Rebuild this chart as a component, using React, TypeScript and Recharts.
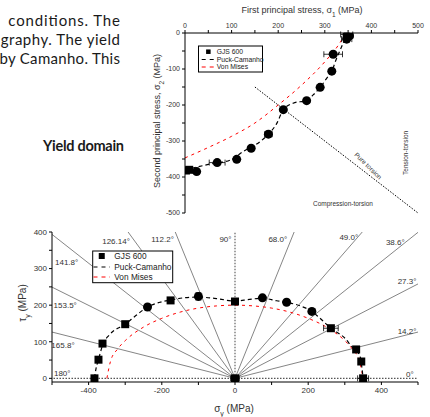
import React from 'react'
import {
  ComposedChart, Line, Scatter, XAxis, YAxis, ErrorBar, ReferenceLine, ReferenceDot,
} from 'recharts'

const FONT = '"Liberation Sans", Arial, sans-serif'

// ---- principal stress plane (top chart) ----
const sigma1Ticks = [0, 50, 100, 150, 200, 250, 300, 350, 400, 450, 500]
const sigma2Ticks = [-500, -450, -400, -350, -300, -250, -200, -150, -100, -50, 0]

const planeSquares = [
  { x: 347, y: -4, ex: 13, ey: 4 },
  { x: 9, y: -380, ex: 3, ey: 0 },
  { x: 2, y: -382, ex: 0, ey: 0 },
]
const planeRound = [
  { x: 353, y: -8, ex: 7, ey: 0 },
  { x: 347, y: -17, ex: 11, ey: 0 },
  { x: 318, y: -59, ex: 20, ey: 0 },
  { x: 315, y: -106, ex: 4, ey: 3 },
  { x: 290, y: -151, ex: 4, ey: 0 },
  { x: 261, y: -188, ex: 3, ey: 0 },
  { x: 211, y: -213, ex: 0, ey: 0 },
  { x: 179, y: -281, ex: 8, ey: 8 },
  { x: 142, y: -320, ex: 0, ey: 0 },
  { x: 111, y: -351, ex: 5, ey: 0 },
  { x: 69, y: -360, ex: 17, ey: 0 },
  { x: 25, y: -385, ex: 0, ey: 0 },
]
const puckPlane = [
  { x: 0, y: -381 }, { x: 50, y: -365 }, { x: 97, y: -353 }, { x: 125, y: -329 },
  { x: 161, y: -302 }, { x: 179, y: -281 }, { x: 197, y: -251 }, { x: 211, y: -213 },
  { x: 232, y: -195 }, { x: 261, y: -187 }, { x: 275, y: -172 }, { x: 290, y: -151 },
  { x: 304, y: -126 }, { x: 315, y: -106 }, { x: 324, y: -75 }, { x: 333, y: -47 },
  { x: 343, y: -17 }, { x: 348, y: 0 },
]
const misesPlane = [
  { x: 0, y: -347 }, { x: 50, y: -318 }, { x: 100, y: -287 }, { x: 150, y: -250 },
  { x: 200, y: -200 }, { x: 250, y: -145 }, { x: 300, y: -80 }, { x: 330, y: -32 },
  { x: 345, y: 0 },
]
const torsionPath = [{ x: 150, y: -150 }, { x: 500, y: -500 }]
const planeNotes = [
  { x: 393, y: -369, text: 'Pure torsion', angle: 44 },
  { x: 474, y: -333, text: 'Tension-torsion', angle: -90 },
  { x: 339, y: -475, text: 'Compression-torsion', angle: 0 },
]

// ---- sigma / tau plane (bottom chart) ----
const sigmaTicks = [-500, -400, -300, -200, -100, 0, 100, 200, 300, 400, 500]
const tauTicks = [0, 50, 100, 150, 200, 250, 300, 350, 400]

const tauSquares = [
  { x: -384, y: 0, ex: 0, ey: 0 },
  { x: -373, y: 51, ex: 0, ey: 0 },
  { x: -362, y: 95, ex: 0, ey: 0 },
  { x: -300, y: 148, ex: 6, ey: 0 },
  { x: -176, y: 213, ex: 0, ey: 0 },
  { x: 0, y: 210, ex: 0, ey: 0 },
  { x: 262, y: 137, ex: 20, ey: 0 },
  { x: 331, y: 79, ex: 5, ey: 0 },
  { x: 345, y: 46, ex: 0, ey: 0 },
  { x: 350, y: 0, ex: 15, ey: 0 },
  { x: 0, y: 0, ex: 12, ey: 0 },
]
const tauRound = [
  { x: -239, y: 195, ex: 0, ey: 0 },
  { x: -100, y: 224, ex: 0, ey: 10 },
  { x: 75, y: 220, ex: 0, ey: 0 },
  { x: 141, y: 208, ex: 0, ey: 0 },
  { x: 210, y: 183, ex: 0, ey: 0 },
]
const puckTau = [
  { x: -384, y: 0 }, { x: -380, y: 25 }, { x: -373, y: 51 }, { x: -362, y: 90 },
  { x: -342, y: 120 }, { x: -300, y: 148 }, { x: -269, y: 173 }, { x: -239, y: 195 },
  { x: -205, y: 208 }, { x: -176, y: 214 }, { x: -141, y: 220 }, { x: -100, y: 222 },
  { x: -50, y: 218 }, { x: 0, y: 211 }, { x: 40, y: 216 }, { x: 75, y: 219 },
  { x: 114, y: 212 }, { x: 141, y: 208 }, { x: 178, y: 198 }, { x: 210, y: 183 },
  { x: 228, y: 168 }, { x: 262, y: 137 }, { x: 301, y: 109 }, { x: 320, y: 86 },
  { x: 331, y: 76 }, { x: 342, y: 59 }, { x: 347, y: 27 }, { x: 350, y: 0 },
]
const misesTau = [
  { x: -350, y: 0 }, { x: -340, y: 47 }, { x: -320, y: 81 }, { x: -300, y: 103 },
  { x: -250, y: 140 }, { x: -200, y: 164 }, { x: -150, y: 181 }, { x: -100, y: 192 },
  { x: -50, y: 198 }, { x: 0, y: 200 }, { x: 50, y: 198 }, { x: 100, y: 192 },
  { x: 150, y: 181 }, { x: 200, y: 164 }, { x: 250, y: 140 }, { x: 300, y: 103 },
  { x: 320, y: 81 }, { x: 340, y: 47 }, { x: 350, y: 0 },
]
const rayAngles = [0, 14.2, 27.3, 38.6, 49.0, 68.0, 90, 112.2, 126.14, 141.8, 153.5, 165.8, 180]
const rayLabels = ['0°', '14.2°', '27.3°', '38.6°', '49.0°', '68.0°', '90°', '112.2°', '126.14°', '141.8°', '153.5°', '165.8°', '180°']
const rayLabelAt = [
  [478, 12], [470, 130], [470, 266], [438, 372], [311, 387], [117, 380], [-26, 381],
  [-198, 381], [-325, 375], [-460, 317], [-464, 200], [-470, 91], [-472, 14],
]

const SIGMA_DOMAIN: [number, number] = [-500, 500]
const TAU_DOMAIN: [number, number] = [-10, 400]

// end of a ray from the origin where it leaves the plot box
function rayEnd(deg: number) {
  const r = (deg * Math.PI) / 180
  const c = Math.cos(r)
  const s = Math.sin(r)
  const tx = Math.abs(c) > 1e-9 ? SIGMA_DOMAIN[1] / Math.abs(c) : Infinity
  const ty = s > 1e-9 ? TAU_DOMAIN[1] / s : Infinity
  const t = Math.min(tx, ty)
  return { x: c * t, y: s * t }
}

const major = (step: number) => (v: number) => (v % step === 0 ? String(v) : '')
const blank = () => ''

const axisCommon = {
  type: 'number' as const,
  allowDataOverflow: true,
  interval: 0 as const,
  axisLine: { stroke: '#000', strokeWidth: 1 },
  tickLine: { stroke: '#000' },
  tickSize: 3,
  tickMargin: 2,
}

function PlaneChart() {
  const tick = { fontSize: 7, fill: '#333', fontFamily: FONT }
  return (
    <ComposedChart width={430} height={228} margin={{ top: 13, right: 12, bottom: 15, left: 155 }}>
      <XAxis {...axisCommon} dataKey="x" orientation="top" domain={[0, 500]} ticks={sigma1Ticks}
        tickFormatter={major(100)} tick={tick} height={20} />
      <XAxis {...axisCommon} xAxisId="m" orientation="bottom" domain={[0, 500]} ticks={sigma1Ticks}
        tickFormatter={blank} height={0} mirror />
      <YAxis {...axisCommon} dataKey="y" domain={[-500, 0]} ticks={sigma2Ticks}
        tickFormatter={major(100)} tick={tick} width={30} />
      <YAxis {...axisCommon} yAxisId="m" orientation="right" domain={[-500, 0]} ticks={sigma2Ticks}
        tickFormatter={blank} width={0} mirror />

      <ReferenceLine segment={torsionPath} stroke="#000" strokeWidth={1} strokeDasharray="1.5 1.5" ifOverflow="visible" />
      {planeNotes.map(n => (
        <ReferenceDot key={n.text} x={n.x} y={n.y} r={0} fill="none" stroke="none" ifOverflow="visible"
          label={{ value: n.text, position: 'center', angle: n.angle, fontSize: 6.5, fill: '#333', fontFamily: FONT }} />
      ))}

      <Line data={misesPlane} dataKey="y" type="monotone" stroke="#ff0000" strokeWidth={1}
        strokeDasharray="3 4" dot={false} isAnimationActive={false} />
      <Line data={puckPlane} dataKey="y" type="monotone" stroke="#000" strokeWidth={1.2}
        strokeDasharray="4 3" dot={false} isAnimationActive={false} />
      <Scatter data={planeRound} dataKey="y" shape="circle" fill="#000" isAnimationActive={false}>
        <ErrorBar dataKey="ex" direction="x" width={3} stroke="#000" strokeWidth={0.8} />
        <ErrorBar dataKey="ey" direction="y" width={3} stroke="#000" strokeWidth={0.8} />
      </Scatter>
      <Scatter data={planeSquares} dataKey="y" shape="square" fill="#000" isAnimationActive={false}>
        <ErrorBar dataKey="ex" direction="x" width={3} stroke="#000" strokeWidth={0.8} />
        <ErrorBar dataKey="ey" direction="y" width={3} stroke="#000" strokeWidth={0.8} />
      </Scatter>
    </ComposedChart>
  )
}

function TauChart() {
  const tick = { fontSize: 8, fill: '#333', fontFamily: FONT }
  return (
    <ComposedChart width={430} height={197} margin={{ top: 12, right: 12, bottom: 15, left: 22 }}>
      <XAxis {...axisCommon} dataKey="x" orientation="bottom" domain={SIGMA_DOMAIN} ticks={sigmaTicks}
        tickFormatter={major(200)} tick={tick} height={20} />
      <XAxis {...axisCommon} xAxisId="m" orientation="top" domain={SIGMA_DOMAIN} ticks={sigmaTicks}
        tickFormatter={blank} height={0} mirror />
      <YAxis {...axisCommon} dataKey="y" domain={TAU_DOMAIN} ticks={tauTicks}
        tickFormatter={major(100)} tick={tick} width={30} />
      <YAxis {...axisCommon} yAxisId="m" orientation="right" domain={TAU_DOMAIN} ticks={tauTicks}
        tickFormatter={blank} width={0} mirror />

      {rayAngles.map(a => {
        const axial = a % 90 === 0
        return (
          <ReferenceLine key={'ray' + a} segment={[{ x: 0, y: 0 }, rayEnd(a)]} ifOverflow="visible"
            stroke={axial ? '#555' : '#333'} strokeWidth={axial ? 1.1 : 0.6}
            strokeDasharray={axial ? '1.5 1.5' : undefined} />
        )
      })}
      {rayLabels.map((t, i) => (
        <ReferenceDot key={'lbl' + t} x={rayLabelAt[i][0]} y={rayLabelAt[i][1]} r={0} fill="none"
          stroke="none" ifOverflow="visible"
          label={{ value: t, position: 'center', fontSize: 8, fill: '#333', fontFamily: FONT }} />
      ))}

      <Line data={misesTau} dataKey="y" type="monotone" stroke="#ff0000" strokeWidth={1}
        strokeDasharray="3 4" dot={false} isAnimationActive={false} />
      <Line data={puckTau} dataKey="y" type="monotone" stroke="#000" strokeWidth={1.2}
        strokeDasharray="4 3" dot={false} isAnimationActive={false} />
      <Scatter data={tauRound} dataKey="y" shape="circle" fill="#000" isAnimationActive={false}>
        <ErrorBar dataKey="ex" direction="x" width={3} stroke="#000" strokeWidth={0.8} />
        <ErrorBar dataKey="ey" direction="y" width={3} stroke="#000" strokeWidth={0.8} />
      </Scatter>
      <Scatter data={tauSquares} dataKey="y" shape="square" fill="#000" isAnimationActive={false}>
        <ErrorBar dataKey="ex" direction="x" width={3} stroke="#000" strokeWidth={0.8} />
        <ErrorBar dataKey="ey" direction="y" width={3} stroke="#000" strokeWidth={0.8} />
      </Scatter>
    </ComposedChart>
  )
}

// legend box drawn in the page overlay
function LegendBox({ x, y, w, h, fs, rows, sq, lineX, textX }: any) {
  return (
    <g fontFamily={FONT} fontSize={fs} fill="#222">
      <rect x={x} y={y} width={w} height={h} fill="#fff" stroke="#000" strokeWidth={1} />
      <rect x={lineX[0] + (lineX[1] - lineX[0]) / 2 - sq / 2} y={rows[0] - sq / 2} width={sq} height={sq} fill="#000" />
      <line x1={lineX[0]} x2={lineX[1]} y1={rows[1]} y2={rows[1]} stroke="#000" strokeWidth={1.2} strokeDasharray="4 4" />
      <line x1={lineX[0]} x2={lineX[1]} y1={rows[2]} y2={rows[2]} stroke="#ff0000" strokeWidth={1} strokeDasharray="4 4" />
      <text x={textX} y={rows[0]} dy="0.35em">GJS 600</text>
      <text x={textX} y={rows[1]} dy="0.35em">Puck-Camanho</text>
      <text x={textX} y={rows[2]} dy="0.35em">Von Mises</text>
    </g>
  )
}

export default function App() {
  return (
    <div style={{ position: 'absolute', left: 0, top: 0, width: 430, height: 417, background: '#fff', overflow: 'hidden' }}>
      <div style={{ position: 'absolute', left: 0, top: 0 }}>
        <PlaneChart />
      </div>
      <div style={{ position: 'absolute', left: 0, top: 220 }}>
        <TauChart />
      </div>
      <svg width={430} height={417} style={{ position: 'absolute', left: 0, top: 0, pointerEvents: 'none' }}>
        <g fontFamily="Lato, sans-serif" fontSize={15} fill="#1a1a1a">
          <text x={8.3} y={26.3} textLength={111.7} lengthAdjust="spacing">conditions. The</text>
          <text x={0.7} y={44.5} textLength={119.3} lengthAdjust="spacing">graphy. The yield</text>
          <text x={-0.5} y={63.5} textLength={120.5} lengthAdjust="spacing">by Camanho. This</text>
          <text x={43} y={150.5} textLength={81} lengthAdjust="spacing" fontWeight="bold" fontSize={14.5}>Yield domain</text>
        </g>
        <g fontFamily={FONT} fill="#333" textAnchor="middle">
          <text x={302} y={13} fontSize={9}>
            First principal stress, σ<tspan fontSize={6.5} baselineShift="sub">1</tspan> (MPa)
          </text>
          <text transform="translate(160,121) rotate(-90)" fontSize={9}>
            Second principal stress, σ<tspan fontSize={6.5} baselineShift="sub">2</tspan> (MPa)
          </text>
          <text x={234} y={411.5} fontSize={10}>
            σ<tspan fontSize={7} baselineShift="sub">y</tspan> (MPa)
          </text>
          <text transform="translate(25.5,303) rotate(-90)" fontSize={10}>
            τ<tspan fontSize={7} baselineShift="sub">y</tspan> (MPa)
          </text>
        </g>
        <LegendBox x={198.5} y={46} w={64} h={26} fs={6.8} rows={[51.7, 59.5, 67]} sq={4.5}
          lineX={[201.7, 215]} textX={216.7} />
        <LegendBox x={92.7} y={251} w={80} h={31.7} fs={8.3} rows={[256, 267, 277]} sq={6}
          lineX={[93.5, 110]} textX={114.3} />
      </svg>
    </div>
  )
}
